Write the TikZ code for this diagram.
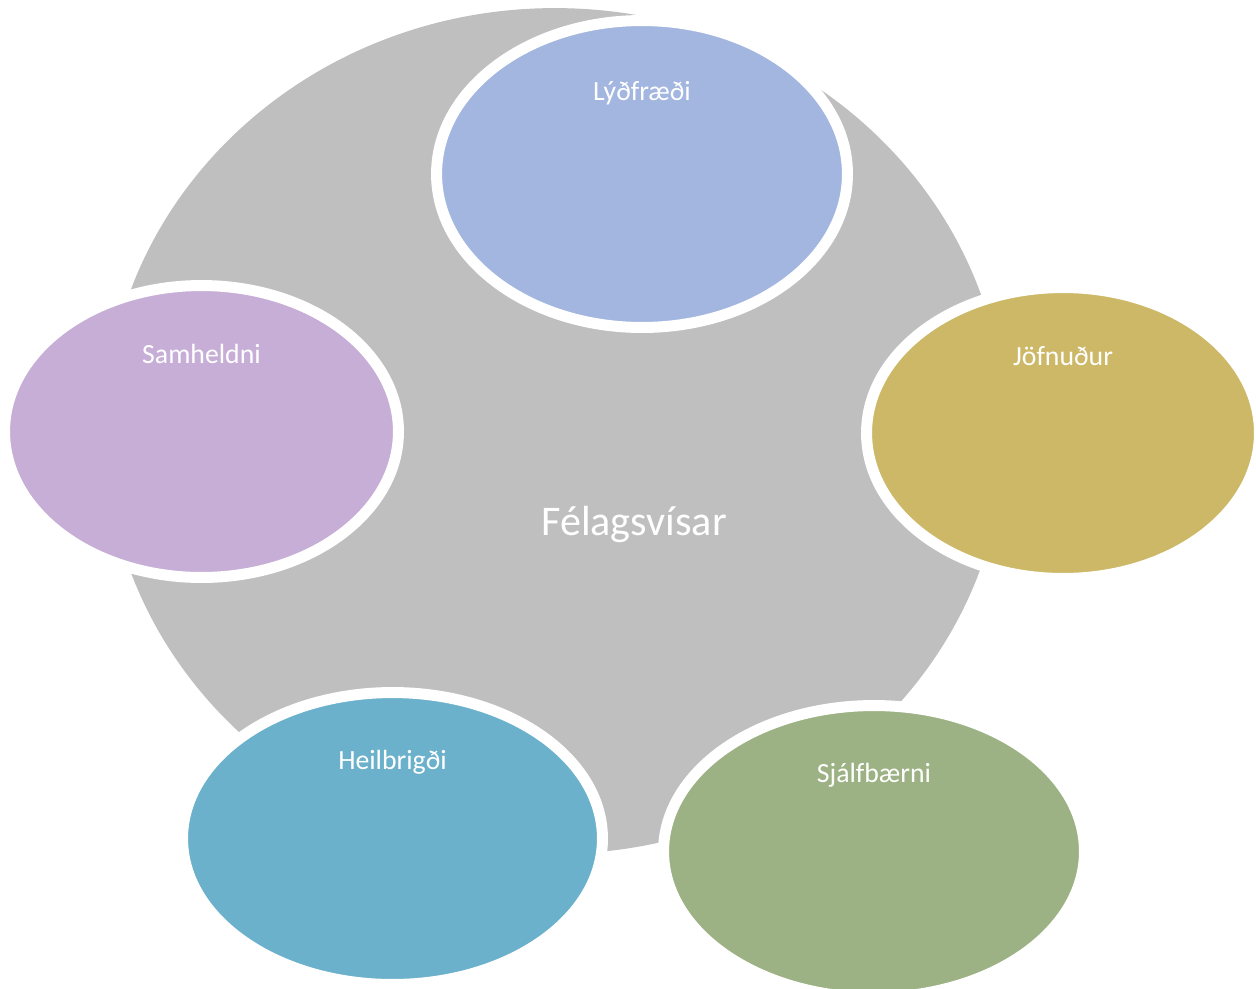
\documentclass[tikz,border=0pt]{standalone}
\usepackage{fontspec}
\setmainfont{Carlito}[Ligatures=NoCommon]
\usetikzlibrary{shapes.geometric}
\definecolor{hubgray}{HTML}{BFBFBF}
\definecolor{cblue}{HTML}{A3B6E0}
\definecolor{cpurple}{HTML}{C6AED6}
\definecolor{cgold}{HTML}{CDB867}
\definecolor{cteal}{HTML}{6BB1CB}
\definecolor{cgreen}{HTML}{9DB284}
\tikzset{
  hub/.style={ellipse, fill=hubgray, inner sep=0pt, minimum width=18cm, minimum height=16.92cm},
  sat/.style={ellipse, draw=white, line width=0.22cm, inner sep=0pt},
  satlabel/.style={text=white, font=\fontsize{15.8}{19}\selectfont, anchor=base, inner sep=0pt},
  hublabel/.style={text=white, font=\fontsize{24}{28}\selectfont, anchor=base, inner sep=0pt}
}
\begin{document}
\begin{tikzpicture}[x=0.02cm, y=-0.02cm]
\useasboundingbox (0,0) rectangle (1256,988);
\node[hub] (hub) at (555,431) {};
\node[sat, fill=cblue, minimum width=8.22cm, minimum height=6.14cm] (lyd) at (642,174) {};
\node[sat, fill=cpurple, minimum width=7.88cm, minimum height=5.84cm] (sam) at (201.5,431.5) {};
\node[sat, fill=cgold, minimum width=7.86cm, minimum height=5.82cm] (jof) at (1063,433) {};
\node[sat, fill=cteal, minimum width=8.4cm, minimum height=5.84cm] (hei) at (392.5,838.5) {};
\node[sat, fill=cgreen, minimum width=8.42cm, minimum height=5.84cm] (sja) at (874,851.5) {};
\node[satlabel] (tlyd) at (642,100) {Lýðfræði};
\node[satlabel] (tsam) at (201.5,363) {Samheldni};
\node[satlabel] (tjof) at (1063,365) {Jöfnuður};
\node[satlabel] (thei) at (392.5,769) {Heilbrigði};
\node[satlabel] (tsja) at (874,782) {Sjálfbærni};
\node[hublabel] (thub) at (634,535) {Félagsvísar};
\end{tikzpicture}
\end{document}
